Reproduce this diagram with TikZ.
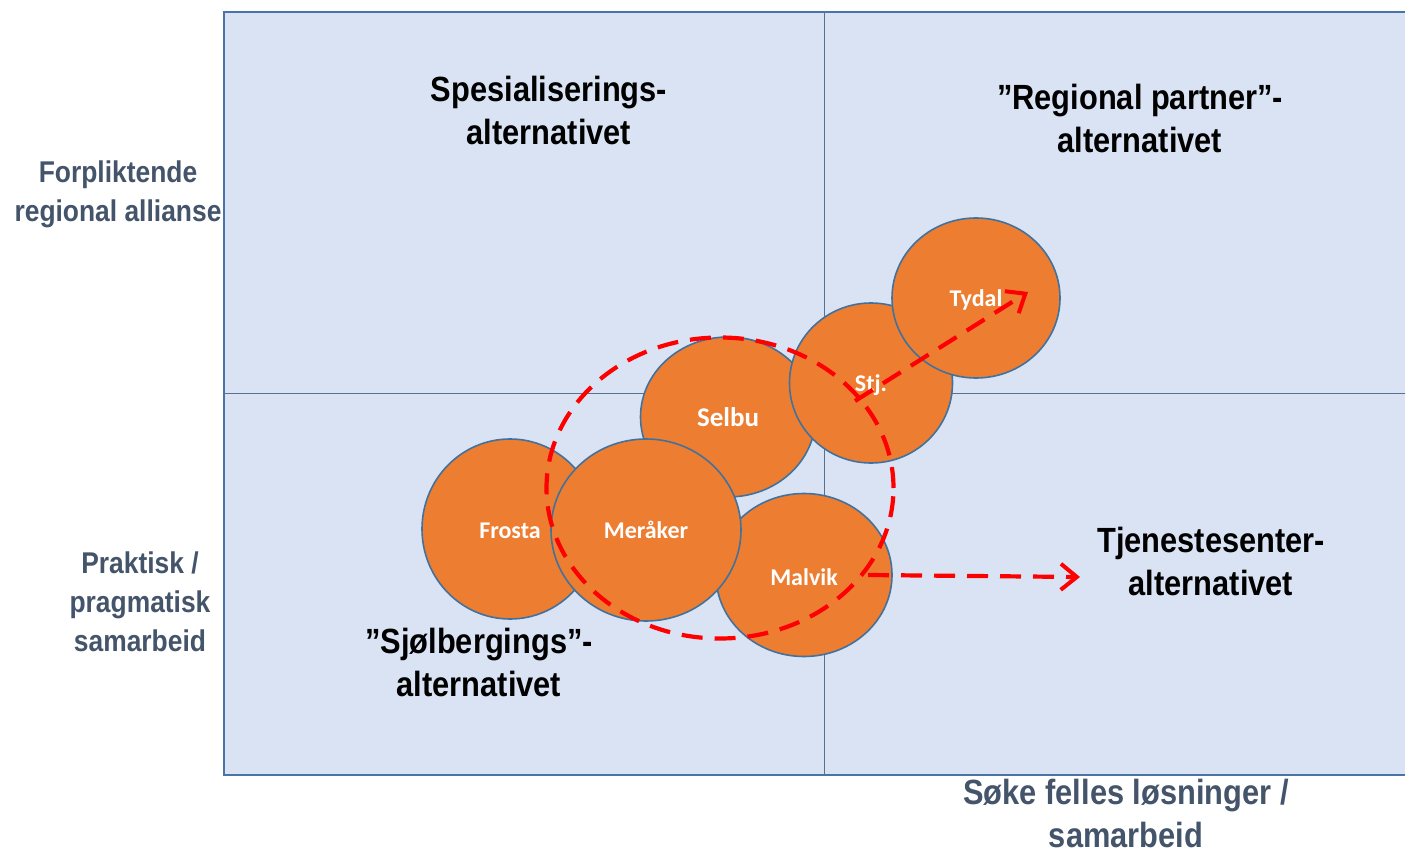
\documentclass[tikz,border=0pt]{standalone}
\usepackage{fontspec}
\setmainfont{Liberation Sans}[FakeStretch=0.88]
\newfontfamily\circfont{Carlito}
\usetikzlibrary{shapes.geometric,arrows.meta}
\definecolor{bgfill}{HTML}{DAE3F3}
\definecolor{bgborder}{HTML}{4A74A8}
\definecolor{midline}{HTML}{5A7090}
\definecolor{orangefill}{HTML}{ED7D31}
\definecolor{circborder}{HTML}{41719C}
\definecolor{sidetext}{HTML}{44546A}
\definecolor{dashred}{HTML}{FF0000}
\newcommand{\lowertxt}[1]{\raisebox{-2pt}[\height][\depth]{#1}}
\tikzset{
  town/.style={ellipse, draw=circborder, line width=1.6pt, fill=orangefill, inner sep=0pt,
    text=white, font=\circfont\bfseries\fontsize{24}{28}\selectfont},
  quadlabel/.style={align=center, font=\bfseries\fontsize{35}{43}\selectfont, text=black},
  sidelabel/.style={align=center, font=\bfseries\fontsize{30}{39}\selectfont, text=sidetext},
  redarrow/.style={draw=dashred, line width=4.2pt, dash pattern=on 21pt off 12pt,
    -{Straight Barb[length=16pt,width=26pt,line width=4pt]}},
}
\begin{document}
\begin{tikzpicture}[x=1pt,y=-1pt]
\useasboundingbox (0,0) rectangle (1405,853);
\fill[white] (0,0) rectangle (1405,853);
% background quadrant box
\path[fill=bgfill, draw=bgborder, line width=2pt] (224,12) rectangle (1412,775);
\coordinate (vtop) at (824,12);
\coordinate (vbot) at (824,775);
\coordinate (hleft) at (224,393);
\coordinate (hright) at (1412,393);
\draw[midline, line width=1pt] (vtop) -- (vbot);
\draw[midline, line width=1pt] (hleft) -- (hright);

% quadrant labels
\node[quadlabel] (spes) at (549,110) {Spesialiserings-\\alternativet};
\node[quadlabel] (regp) at (1140,118) {”Regional partner”-\\alternativet};
\node[quadlabel] (tjen) at (1211,561) {Tjenestesenter-\\alternativet};
\node[quadlabel] (sjol) at (479,662) {”Sjølbergings”-\\alternativet};

% side labels
\node[sidelabel] (forp) at (118,194) {Forpliktende\\regional allianse};
\node[sidelabel] (prak) at (140,602) {Praktisk /\\pragmatisk\\samarbeid};
\node[sidelabel, font=\bfseries\fontsize{35}{43}\selectfont] (soke) at (1126,813) {Søke felles løsninger /\\samarbeid};

% towns
\node[town, minimum width=175pt, minimum height=160pt] (selbu) at (728,417) {\fontsize{27}{30}\selectfont Selbu};
\node[town, minimum width=163pt, minimum height=160pt] (stj) at (871,383) {\lowertxt{Stj.}};
\node[town, minimum width=168pt, minimum height=160pt] (tydal) at (976,298) {\lowertxt{Tydal}};
\node[town, minimum width=176pt, minimum height=180pt] (frosta) at (510,529) {\lowertxt{Frosta}};
\node[town, minimum width=176pt, minimum height=163pt] (malvik) at (804,575) {\lowertxt{Malvik}};
\node[town, minimum width=190pt, minimum height=182pt] (meraker) at (646,530) {Meråker};

% dashed group ellipse
\node[ellipse, draw=dashred, line width=4.2pt, dash pattern=on 21pt off 12pt,
  minimum width=347pt, minimum height=301pt, inner sep=0pt] (group) at (720,488) {};

% arrows
\coordinate (a1s) at (855,401);
\coordinate (a1e) at (1028,292);
\coordinate (a2s) at (868,575);
\coordinate (a2e) at (1080,577);
\draw[redarrow] (a1s) -- (a1e);
\draw[redarrow] (a2s) -- (a2e);
\end{tikzpicture}
\end{document}
